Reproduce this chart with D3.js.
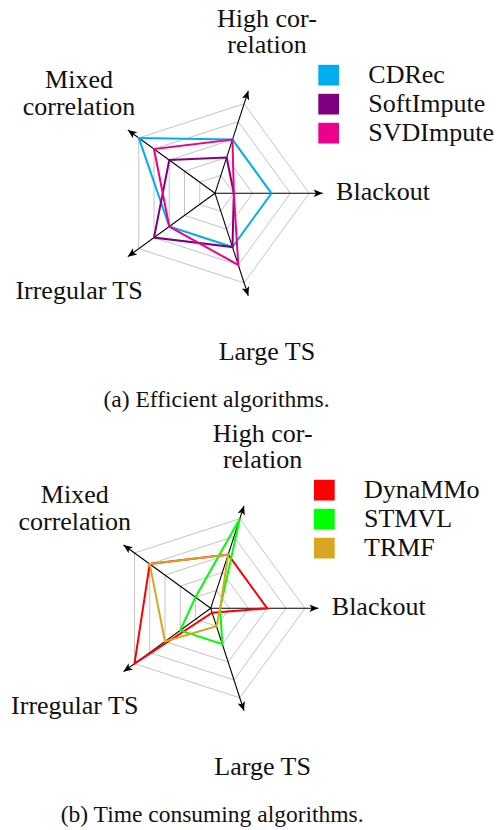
<!DOCTYPE html>
<html>
<head>
  <meta charset="UTF-8">
  <script src="https://d3js.org/d3.v7.min.js"></script>
</head>
<body style="margin:0">
  <svg id="chart" width="498" height="830" font-family="Liberation Serif" style="display:block;background:#fff">
    <defs>
      <marker id="arrow" markerWidth="12" markerHeight="10" refX="9" refY="5" orient="auto" markerUnits="userSpaceOnUse">
        <path d="M0,1.2 L9,5 L0,8.8 L2.2,5 z" fill="#000"/>
      </marker>
    </defs>
  </svg>

  <script>
    // axes, counter-clockwise starting at 3 o'clock
    const axisLabels = [["Blackout"], ["High cor-", "relation"], ["Mixed", "correlation"], ["Irregular TS"], ["Large TS"]];
    const gridTicks = [1, 2, 3, 4, 5];

    // (a) efficient algorithms
    const namesA = ["CDRec", "SoftImpute", "SVDImpute"];
    const colorsA = ["#00aeef", "#7f007f", "#ec008c"];
    const cdrec = [3, 3, 5, 3, 3];
    const softImpute = [1, 2, 3, 4, 3];
    const svdImpute = [1, 3, 4, 3, 4];

    // (b) time consuming algorithms
    const namesB = ["DynaMMo", "STMVL", "TRMF"];
    const colorsB = ["#ff0000", "#00ff00", "#daa520"];
    const dynammo = [3, 3, 4, 5, 0.25];
    const stmvl = [0.5, 5, 1, 2, 2];
    const trmf = [0.5, 3, 4, 3, 1];

    const svg = d3.select("#chart");

    const r = d3.scaleLinear().domain([0, 5]).range([0, 94.2]);
    const axisEnd = 5.72;   // arrow tip, in data units
    const labelAt = 8.92;   // label centre, in data units
    const n = axisLabels.length;

    // lineRadial measures angle clockwise from 12 o'clock
    const ang = i => Math.PI / 2 - i * 2 * Math.PI / n;
    const px = (i, v) => r(v) * Math.sin(ang(i));
    const py = (i, v) => -r(v) * Math.cos(ang(i));

    function serifText(sel, size) {
      return sel
        .style("font-family", '"Liberation Serif"')
        .attr("font-size", size)
        .attr("fill", "#111");
    }

    function drawRadar(cx, cy, names, colors, series, caption) {
      const g = svg.append("g").attr("transform", `translate(${cx},${cy})`);

      const ring = d3.lineRadial()
        .angle((d, i) => ang(i))
        .radius(d => r(d))
        .curve(d3.curveLinearClosed);

      // grid pentagons
      g.selectAll(".grid")
        .data(gridTicks)
        .join("path")
        .attr("class", "grid")
        .attr("fill", "none")
        .attr("stroke", "#c4c4c4")
        .attr("stroke-width", 1)
        .attr("d", k => ring(d3.range(n).map(() => k)));

      // axes with arrows
      g.selectAll(".axis")
        .data(d3.range(n))
        .join("line")
        .attr("class", "axis")
        .attr("stroke", "#000")
        .attr("stroke-width", 1.1)
        .attr("x1", 0)
        .attr("y1", 0)
        .attr("x2", i => px(i, axisEnd))
        .attr("y2", i => py(i, axisEnd))
        .attr("marker-end", "url(#arrow)");

      // data polygons
      g.selectAll(".series")
        .data(series)
        .join("path")
        .attr("class", "series")
        .attr("fill", "none")
        .attr("stroke-width", 2)
        .attr("stroke", (d, i) => colors[i])
        .attr("d", d => ring(d));

      // axis labels
      const lab = g.selectAll(".lab")
        .data(axisLabels)
        .join("text")
        .attr("class", "lab")
        .attr("text-anchor", "middle")
        .attr("x", (d, i) => px(i, labelAt))
        .attr("y", (d, i) => py(i, labelAt) + (d.length > 1 ? -6.6 : 7))
        .call(serifText, 26);
      lab.selectAll("tspan")
        .data(d => d)
        .join("tspan")
        .attr("x", function () { return this.parentNode.getAttribute("x"); })
        .attr("dy", (d, j) => j ? 26.6 : 0)
        .text(d => d);

      // legend
      const leg = g.selectAll(".leg")
        .data(names)
        .join("g")
        .attr("class", "leg")
        .attr("transform", (d, i) => `translate(103.3,${-128.5 + i * 29})`);
      leg.append("rect")
        .attr("width", 20.7)
        .attr("height", 20.7)
        .attr("fill", (d, i) => colors[i]);
      leg.append("text")
        .attr("x", 50)
        .attr("y", 18.5)
        .call(serifText, 26)
        .text(d => d);

      // caption
      g.append("text")
        .attr("text-anchor", "middle")
        .attr("x", 1.5)
        .attr("y", 213.6)
        .call(serifText, 23.5)
        .text(caption);
    }

    drawRadar(215, 193.3, namesA, colorsA, [cdrec, softImpute, svdImpute], "(a) Efficient algorithms.");
    drawRadar(210.7, 608.3, namesB, colorsB, [dynammo, stmvl, trmf], "(b) Time consuming algorithms.");
  </script>
</body>
</html>
